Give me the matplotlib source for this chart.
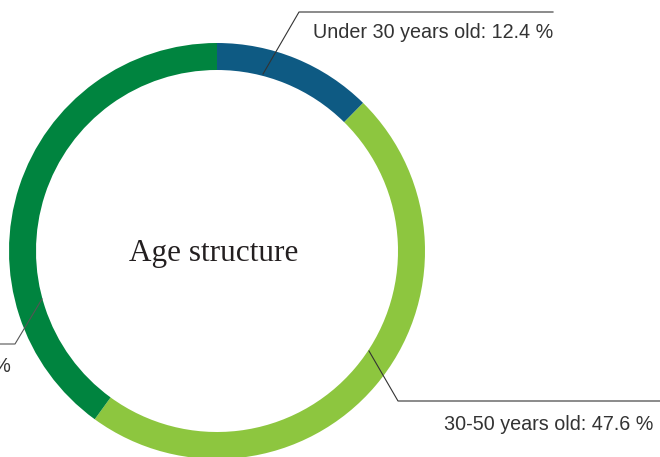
import matplotlib
matplotlib.use("Agg")
import matplotlib.pyplot as plt

W, H = 660, 457

labels = ["Under 30 years old", "30-50 years old", "Over 50 years old"]
shares = [12.4, 47.6, 40.0]
colors = ["#0e5a83", "#8dc63f", "#00843f"]
title = "Age structure"

fig = plt.figure(figsize=(W / 100, H / 100), dpi=100)
ax = fig.add_axes([0, 0, 1, 1])

cx, cy, R, ring = 217, H - 251, 208, 27
ax.pie(shares, colors=colors, startangle=90, counterclock=False,
       radius=R, center=(cx, cy), wedgeprops=dict(width=ring, linewidth=0))

ax.set_xlim(0, W)
ax.set_ylim(0, H)
ax.set_aspect("equal")
ax.axis("off")

def py(y):
    return H - y

ax.text(cx - 3, py(254), title, ha="center", va="center",
        fontsize=22.5, family="Liberation Serif", color="#231f20")

lab_font = dict(fontsize=14.2, family="Liberation Sans", color="#333333")

# under 30
ax.plot([263, 299, 553], [py(74), py(12), py(12)], color="#333333", lw=0.8)
ax.text(553, py(33), "%s: %.1f %%" % (labels[0], shares[0]), ha="right", va="center", **lab_font)

# 30-50
ax.plot([369, 398, 660], [py(351), py(401), py(401)], color="#333333", lw=0.8)
ax.text(653, py(424), "%s: %.1f %%" % (labels[1], shares[1]), ha="right", va="center", **lab_font)

# over 50
ax.plot([42, 15, 0], [py(299), py(344), py(344)], color="#555555", lw=0.8)
ax.text(11, py(366), "%s: %.1f %%" % (labels[2], shares[2]), ha="right", va="center", **lab_font)

fig.savefig("out.png", dpi=100)
